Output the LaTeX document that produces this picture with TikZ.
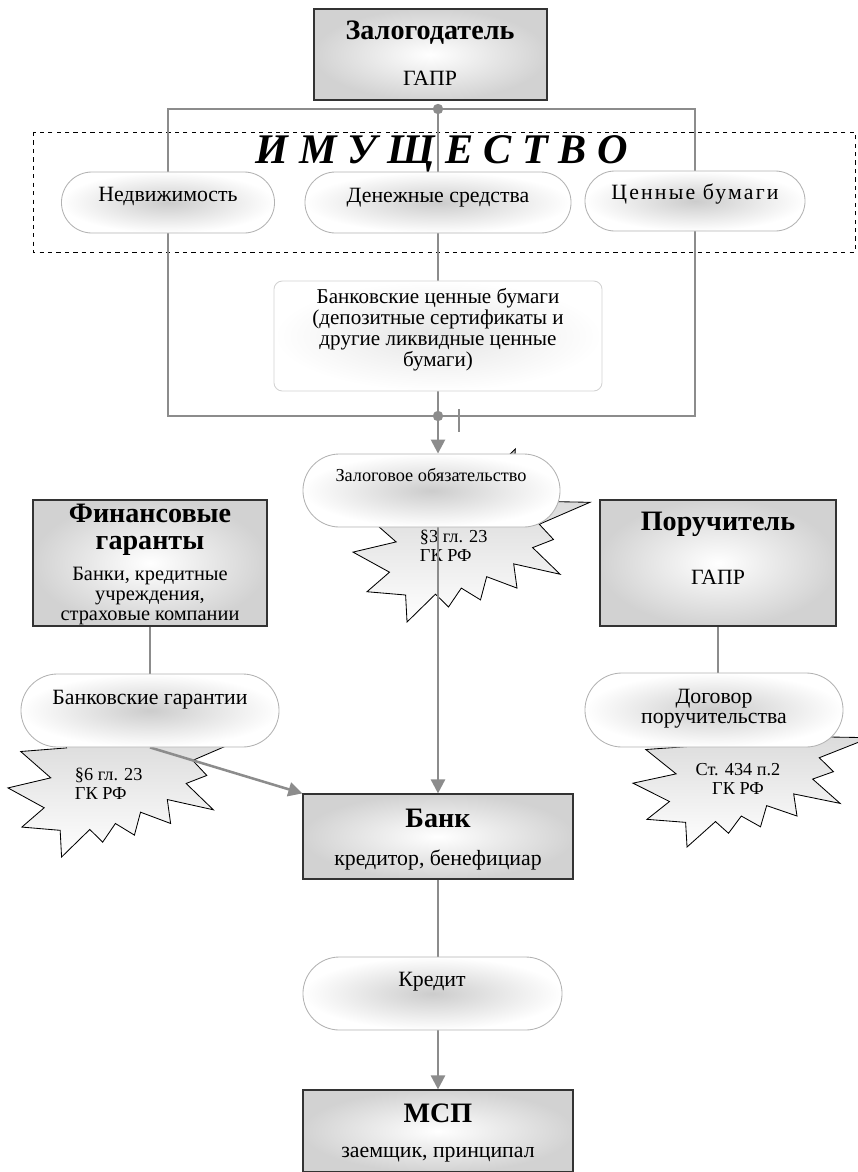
\documentclass[tikz,border=0pt]{standalone}
\usepackage{fontspec}
\setmainfont{Liberation Serif}
\usetikzlibrary{arrows.meta,shapes.misc,backgrounds}

\definecolor{linegray}{HTML}{8C8C8C}

% explosion outline in a unit square (y down)
\newcommand\sealpath{(0.531,0.201) -- (0.685,0) -- (0.672,0.267) -- (0.834,0.147)
  -- (0.758,0.302) -- (1,0.308) -- (0.786,0.435) -- (0.846,0.523) -- (0.758,0.570)
  -- (0.874,0.724) -- (0.678,0.664) -- (0.692,0.804) -- (0.564,0.738) -- (0.538,0.872)
  -- (0.457,0.804) -- (0.403,0.913) -- (0.348,0.839) -- (0.228,1) -- (0.222,0.844)
  -- (0.059,0.825) -- (0.154,0.712) -- (0,0.596) -- (0.182,0.537) -- (0.054,0.383)
  -- (0.249,0.362) -- (0.208,0.168) -- (0.396,0.295) -- (0.450,0.087) -- cycle}

\tikzset{
  gline/.style={draw=linegray, line width=1.8pt},
  garrow/.style={gline, -{Triangle[width=10pt,length=10pt]}},
  gbox/.style={rectangle, draw=black!80, line width=0.8pt, inner color=white,
    outer color=gray!35, inner sep=0pt},
  pill/.style={rounded rectangle, draw=gray!60, line width=0.6pt, inner color=gray!40,
    outer color=white, inner sep=0pt},
  bcbox/.style={rectangle, rounded corners=6pt, draw=gray!35, line width=0.6pt,
    inner color=gray!20, outer color=white, inner sep=0pt},
  seal/.style={draw=black, line width=0.6pt, top color=gray!40, bottom color=white},
  ttl/.style={font=\fontsize{20}{19.5}\selectfont\bfseries, align=center},
  lbl/.style={font=\fontsize{15.5}{15}\selectfont, align=center},
  startext/.style={font=\fontsize{13}{13.5}\selectfont, align=left},
}

\begin{document}
\begin{tikzpicture}[x=0.025cm, y=-0.025cm]
    \useasboundingbox (0,0) rectangle (857,1172);

    % boxes and pills
    \node[gbox, minimum width=5.825cm, minimum height=2.275cm] (zalog) at (430.5,54.5) {};
    \node[pill, minimum width=5.325cm, minimum height=1.525cm] (nedv) at (168,202.5) {};
    \node[pill, minimum width=6.65cm, minimum height=1.525cm] (money) at (438,202.5) {};
    \node[pill, minimum width=5.5cm, minimum height=1.5cm] (secur) at (695,201) {};
    \node[bcbox, minimum width=8.2cm, minimum height=2.75cm] (bcb) at (438,336) {};
    \node[pill, minimum width=6.425cm, minimum height=1.825cm] (zpill) at (431.5,490.5) {};
    \node[gbox, minimum width=5.85cm, minimum height=3.15cm] (finance) at (150,563) {};
    \node[gbox, minimum width=5.9cm, minimum height=3.15cm] (poruch) at (718,563) {};
    \node[pill, minimum width=6.45cm, minimum height=1.825cm] (garpill) at (150,710.5) {};
    \node[pill, minimum width=6.45cm, minimum height=1.85cm] (dogpill) at (714,710) {};
    \node[gbox, minimum width=6.75cm, minimum height=2.125cm] (bank) at (438,836.5) {};
    \node[pill, minimum width=6.475cm, minimum height=1.825cm] (kred) at (432.5,993.5) {};
    \node[gbox, minimum width=6.75cm, minimum height=2.05cm] (msp) at (438,1131) {};

    % texts
    \node[ttl] (zalog-t) at (430,33) {Залогодатель};
    \node[lbl] (zalog-s) at (430,78) {ГАПР};
    \node[lbl] (nedv-t) at (168,196) {Недвижимость};
    \node[lbl] (money-t) at (438,198) {Денежные средства};
    \node[lbl] (secur-t) at (695,194) {\addfontfeatures{LetterSpace=10}Ценные бумаги};
    \node[lbl, font=\fontsize{15}{15}\selectfont] (bcb-t) at (438,330)
        {Банковские ценные бумаги\\(депозитные сертификаты и\\другие ликвидные ценные\\бумаги)};
    \node[lbl, font=\fontsize{13}{13}\selectfont] (zpill-t) at (431,475) {Залоговое обязательство};
    \node[ttl] (finance-t) at (150,530) {Финансовые\\гаранты};
    \node[lbl, font=\fontsize{14.5}{14}\selectfont] (finance-s) at (150,596)
        {Банки, кредитные\\учреждения,\\страховые компании};
    \node[ttl] (poruch-t) at (718,524) {Поручитель};
    \node[lbl] (poruch-s) at (718,577) {ГАПР};
    \node[lbl] (garpill-t) at (150,700) {Банковские гарантии};
    \node[lbl, font=\fontsize{15.5}{14.5}\selectfont] (dogpill-t) at (714,709)
        {Договор\\поручительства};
    \node[ttl] (bank-t) at (438,818) {Банк};
    \node[lbl] (bank-s) at (438,860) {кредитор, бенефициар};
    \node[lbl] (kred-t) at (432,982) {Кредит};
    \node[ttl] (msp-t) at (438,1113) {МСП};
    \node[lbl] (msp-s) at (438,1155) {заемщик, принципал};

    \begin{scope}[on background layer]
    % law references
    \foreach \x/\y/\w/\h in {353/449/237/173, 8/686/235/171, 633/689/237/158}
        \draw[seal, shift={(\x,\y)}, xscale=\w, yscale=\h] \sealpath;
    \node[startext, anchor=west] (law1) at (415,546) {§3 гл. 23\\ГК РФ};
    \node[startext, anchor=west] (law2) at (70,784) {§6 гл. 23\\ГК РФ};
    \node[startext, align=center] (law3) at (738,779) {Ст. 434 п.2\\ГК РФ};

    % property frame
    \draw[dashed] (33,132) rectangle (855,252);
    \node[font=\fontsize{30}{32}\selectfont\bfseries\itshape] (prop) at (442,154)
        {И М У Щ Е С Т В О};
    \coordinate (topdot) at (438,109);
    \coordinate (botdot) at (438,416);
    \draw[gline] (nedv |- topdot) -- (secur |- topdot) -- (secur |- botdot)
        -- (nedv |- botdot) -- cycle;
    \draw[gline] (topdot) -- (bcb.north);
    \draw[gline] (bcb.south) -- (botdot);
    \fill[linegray] (topdot) circle[radius=0.13cm];
    \fill[linegray] (botdot) circle[radius=0.13cm];
    \draw[linegray, line width=1.4pt] (459,409) -- (459,432);

    % connectors
    \draw[garrow] (botdot) -- (botdot |- zpill.north);
    \draw[garrow] (zpill.south -| bank.north) -- (bank.north);
    \draw[gline] (finance.south) -- (garpill.north);
    \draw[garrow] (garpill.south) -- (bank.north west);
    \draw[gline] (poruch.south) -- (poruch.south |- dogpill.north);
    \draw[gline] (bank.south) -- (bank.south |- kred.north);
    \draw[garrow] (bank.south |- kred.south) -- (msp.north);
    \end{scope}
\end{tikzpicture}
\end{document}
